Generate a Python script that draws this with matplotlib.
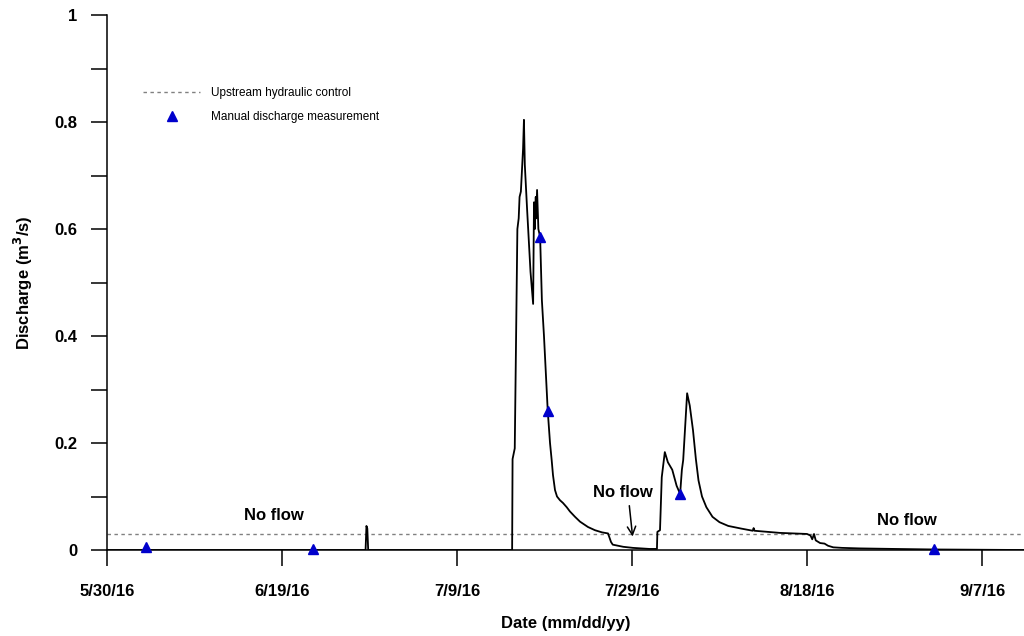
import datetime as dt
import numpy as np
import matplotlib
matplotlib.use('Agg')
import matplotlib.pyplot as plt
import matplotlib.dates as mdates

plt.rcParams["font.family"] = ["Liberation Sans", "DejaVu Sans"]

start = dt.datetime(2016, 5, 30)

# discharge hydrograph, days since 5/30/16 and m3/s
flow_days = [0, 29.55, 29.65, 29.75, 29.85, 46.3, 46.35, 46.6, 46.9, 47.05, 47.15, 47.3,
             47.55, 47.65, 47.75, 48.0, 48.4, 48.7, 48.8, 48.9, 49.0, 49.05, 49.15, 49.3,
             49.5, 49.7, 49.94, 50.37, 50.63, 50.82, 50.97, 51.2, 51.43, 51.77, 52.11, 52.54,
             52.91, 53.49, 54.06, 54.97, 55.77, 56.57, 57.26, 57.6,
             57.8, 59.0, 60.1, 62.0, 62.85, 62.9, 63.2, 63.4, 63.75, 64.1, 64.6, 65.1, 65.5,
             65.7, 65.85, 66.3, 66.6, 66.97, 67.3, 67.6, 68.0, 68.5, 69.2, 70.0, 71.0, 72.5,
             73.8, 73.9, 74.0, 76.9,
             80.0, 80.4, 80.6, 80.8, 81.0, 81.5, 82.0, 82.4, 83.0, 84.0, 86.0, 90.0, 94.5, 105]
flow_q = [0, 0, 0.045, 0.04, 0, 0, 0.17, 0.19, 0.6, 0.62, 0.66, 0.67,
          0.75, 0.804, 0.72, 0.64, 0.52, 0.46, 0.65, 0.6, 0.66, 0.62, 0.673, 0.6,
          0.585, 0.467, 0.4, 0.26, 0.2, 0.168, 0.14, 0.112, 0.1, 0.093, 0.088, 0.08,
          0.072, 0.062, 0.053, 0.043, 0.037, 0.033, 0.031, 0.015,
          0.01, 0.006, 0.004, 0.002, 0.002, 0.034, 0.037, 0.136, 0.183, 0.164, 0.15, 0.12, 0.105,
          0.15, 0.168, 0.293, 0.27, 0.224, 0.17, 0.13, 0.1, 0.08, 0.062, 0.052, 0.045, 0.04,
          0.036, 0.041, 0.036, 0.032,
          0.030, 0.027, 0.02, 0.03, 0.018, 0.013, 0.012, 0.008, 0.005, 0.004, 0.003, 0.002, 0.001, 0]

# manual discharge measurements
meas_days = [4.46, 23.5, 49.5, 50.4, 65.5, 94.5]
meas_q = [0.005, 0.001, 0.585, 0.26, 0.105, 0.002]

control_q = 0.03

tick_days = [0, 20, 40, 60, 80, 100]
tick_labels = ['5/30/16', '6/19/16', '7/9/16', '7/29/16', '8/18/16', '9/7/16']
y_ticks = [0, 0.2, 0.4, 0.6, 0.8, 1]
y_labels = ['0', '0.2', '0.4', '0.6', '0.8', '1']

t0 = mdates.date2num(start)
x_flow = t0 + np.array(flow_days)
x_meas = t0 + np.array(meas_days)

fig = plt.figure(figsize=(10.24, 6.36), dpi=100)
ax = fig.add_axes([0.1045, 0.1352, 0.8955, 0.8412])

ax.axhline(control_q, color='gray', lw=1, ls=(0, (2.5, 2.5)), label='Upstream hydraulic control')
ax.plot(x_flow, flow_q, color='black', lw=1.3)
ax.plot(x_meas, meas_q, ls='none', marker='^', color='#0000cc', ms=7, clip_on=False, zorder=5,
        label='Manual discharge measurement')

ax.set_xlim(t0, t0 + 104.8)
ax.set_ylim(0, 1)
ax.set_xticks(t0 + np.array(tick_days))
ax.set_xticklabels(tick_labels, fontsize=12, fontweight='bold')
ax.set_yticks(y_ticks)
ax.set_yticklabels(y_labels, fontsize=12, fontweight='bold')
ax.set_yticks(np.arange(0.1, 1.0, 0.2), minor=True)
ax.tick_params(axis='both', which='both', direction='out', length=11.5, width=1.1)
ax.tick_params(axis='y', which='major', pad=10)
ax.tick_params(axis='x', which='major', pad=13)

for s in ['top', 'right']:
    ax.spines[s].set_visible(False)
for s in ['left', 'bottom']:
    ax.spines[s].set_linewidth(1.1)

ax.set_xlabel('Date (mm/dd/yy)', fontsize=12, fontweight='bold', labelpad=12)
ax.set_ylabel('Discharge (m$^\\mathbf{3}$/s)', fontsize=12, fontweight='bold', labelpad=14)

ax.text(t0 + 19.1, 0.064, 'No flow', fontsize=12, fontweight='bold', ha='center', va='center')
ax.text(t0 + 58.97, 0.108, 'No flow', fontsize=12, fontweight='bold', ha='center', va='center')
ax.text(t0 + 91.4, 0.055, 'No flow', fontsize=12, fontweight='bold', ha='center', va='center')
ax.annotate('', xy=(t0 + 60.1, 0.02), xytext=(t0 + 59.66, 0.088),
            arrowprops=dict(arrowstyle='->', color='black', lw=1.1, mutation_scale=15))

ax.legend(loc='upper left', bbox_to_anchor=(0.028, 0.885), frameon=False, fontsize=8.5,
          handlelength=4.8, handletextpad=0.9, labelspacing=1.0, numpoints=1)

fig.savefig('out.png', dpi=100)
